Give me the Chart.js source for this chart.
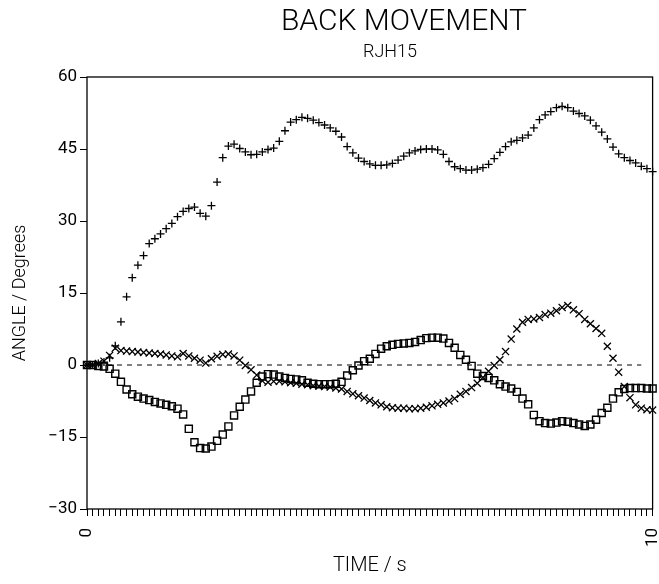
<!DOCTYPE html>
<html>
<head>
<meta charset="utf-8">
<script src="https://cdn.jsdelivr.net/npm/chart.js@4"></script>
<style>
  html, body { margin: 0; padding: 0; background: #fff; }
</style>
</head>
<body>
<canvas id="myChart" width="659" height="584"></canvas>
<script>
const titleText = "BACK MOVEMENT";
const subtitleText = "RJH15";

// time base, s (sampled every 0.1 s)
const times = Array.from({ length: 101 }, (_, i) => i / 10);

// "+" series
const plusVals = [
  0, 0, 0.3, 0.6, 1.5, 4, 9, 14.2, 18.2, 20.8,
  22.8, 25.3, 26.3, 27.3, 28.4, 29.5, 30.9, 32.0, 32.6, 32.9,
  31.6, 31.0, 33.2, 38.1, 43.2, 45.6, 46.0, 45.1, 44.4, 43.8,
  43.9, 44.4, 44.9, 45.2, 46.6, 48.8, 50.6, 51.1, 51.6, 51.4,
  51.0, 50.5, 50.0, 49.4, 48.7, 47.5, 45.5, 44.2, 43.1, 42.4,
  41.9, 41.6, 41.6, 41.7, 42.0, 42.7, 43.5, 44.2, 44.6, 44.9,
  45.0, 45.0, 44.8, 43.9, 42.4, 41.3, 40.9, 40.6, 40.6, 40.8,
  41.1, 41.8, 43.0, 44.3, 45.5, 46.5, 46.8, 47.3, 47.9, 49.4,
  51.1, 52.1, 52.8, 53.6, 53.9, 53.6, 52.9, 52.4, 51.9, 51.0,
  49.8, 48.5, 47.1, 45.4, 44.0, 43.2, 42.6, 42.1, 41.4, 40.9,
  40.3
];

// "x" series
const crossVals = [
  0, 0, 0.3, 0.8, 2.0, 3.5, 3.0, 2.9, 2.8, 2.7,
  2.6, 2.5, 2.4, 2.3, 2.1, 1.9, 1.7, 2.4, 1.9, 1.4,
  1.0, 0.4, 1.3, 1.8, 2.2, 2.3, 1.9, 1.0, -0.1, -1.0,
  -2.1, -3.3, -3.6, -3.4, -3.4, -3.5, -3.7, -3.8, -4.0, -4.1,
  -4.3, -4.4, -4.5, -4.6, -4.8, -5.0, -5.5, -6.0, -6.4, -6.9,
  -7.4, -7.9, -8.3, -8.7, -8.9, -9.0, -9.0, -9.1, -9.1, -9.0,
  -8.8, -8.5, -8.2, -7.9, -7.5, -7.0, -6.1, -5.5, -4.7, -3.8,
  -2.6, -1.3, -0.1, 1.1, 2.8, 5.4, 7.5, 8.9, 9.5, 9.6,
  9.9, 10.5, 10.8, 11.3, 12.0, 12.4, 11.5, 10.7, 9.5, 8.6,
  7.6, 6.6, 3.9, 1.4, -1.5, -4.5, -6.8, -8.3, -9.0, -9.3,
  -9.4
];

// square series
const squareVals = [
  0, 0, -0.2, -0.3, -0.8, -1.8, -3.5, -5.1, -6.1, -6.6,
  -7.0, -7.3, -7.7, -8.0, -8.3, -8.6, -9.1, -10.3, -13.3, -16.1,
  -17.3, -17.4, -17.0, -15.8, -14.5, -12.8, -10.5, -8.7, -7.2, -5.5,
  -3.7, -2.4, -1.9, -2.0, -2.4, -2.7, -2.9, -3.0, -3.2, -3.7,
  -3.9, -4.0, -4.0, -4.0, -3.9, -3.5, -2.2, -1.1, -0.1, 0.8,
  1.3, 2.3, 3.4, 3.9, 4.2, 4.4, 4.5, 4.6, 4.8, 5.2,
  5.6, 5.7, 5.7, 5.5, 4.6, 3.6, 2.1, 1.1, -0.2, -1.8,
  -2.3, -2.7, -3.2, -4.0, -4.5, -4.9, -5.6, -7.0, -8.2, -10.4,
  -11.7, -12.1, -12.2, -12.0, -11.7, -11.8, -12.1, -12.4, -12.7, -12.4,
  -11.4, -10.0, -8.9, -7.0, -5.7, -5.0, -4.8, -4.8, -4.8, -4.9,
  -4.9
];

// dashed zero reference line
const refLineX = [0, 9.8];
const refLineY = 0;

// tick labels
const yTicks = [-30, -15, 0, 15, 30, 45, 60];
const xLabelTicks = [0, 10];

const FONT = "Roboto, 'DejaVu Sans', sans-serif";

function toPoints(vals) {
  return vals.map((v, i) => ({ x: times[i], y: v }));
}

const framePlugin = {
  id: "frame",
  beforeDatasetsDraw(chart) {
    const a = chart.chartArea;
    const c = chart.ctx;
    c.save();
    c.strokeStyle = "#000";
    c.lineWidth = 1.3;
    c.strokeRect(a.left, a.top, a.right - a.left, a.bottom - a.top);
    c.restore();
  },
  afterDraw(chart) {
    const c = chart.ctx;
    c.save();
    c.fillStyle = "#000";
    c.textAlign = "center";
    c.textBaseline = "middle";
    c.font = "300 30px " + FONT;
    c.fillText(titleText, 404, 22);
    c.font = "300 18px " + FONT;
    c.fillText(subtitleText, 390, 52);
    c.restore();
  },
};

const ctx = document.getElementById("myChart").getContext("2d");

const myChart = new Chart(ctx, {
  type: "scatter",
  data: {
    datasets: [
      {
        label: "zero",
        data: refLineX.map((x) => ({ x: x, y: refLineY })),
        showLine: true,
        borderColor: "#000",
        borderWidth: 1,
        borderDash: [5, 5],
        pointRadius: 0,
      },
      {
        label: "plus",
        data: toPoints(plusVals),
        pointStyle: "cross",
        pointRadius: 4,
        borderColor: "#000",
        borderWidth: 1.3,
        clip: false,
      },
      {
        label: "cross",
        data: toPoints(crossVals),
        pointStyle: "crossRot",
        pointRadius: 5,
        borderColor: "#000",
        borderWidth: 1.3,
        clip: false,
      },
      {
        label: "square",
        data: toPoints(squareVals),
        pointStyle: "rect",
        pointRadius: 5,
        backgroundColor: "rgba(255,255,255,0)",
        borderColor: "#000",
        borderWidth: 1.4,
        clip: false,
      },
    ],
  },
  options: {
    responsive: false,
    animation: false,
    devicePixelRatio: 1,
    layout: { padding: { top: 77, right: 6, left: 0, bottom: 0 } },
    plugins: {
      legend: { display: false },
      tooltip: { enabled: false },
    },
    scales: {
      x: {
        type: "linear",
        min: 0,
        max: 10,
        afterBuildTicks: (scale) => {
          scale.ticks = times.map((t) => ({ value: t }));
        },
        afterFit: (scale) => {
          scale.height = 75;
          scale.paddingLeft = 0;
          scale.paddingRight = 0;
        },
        ticks: {
          autoSkip: false,
          minRotation: 90,
          maxRotation: 90,
          padding: 12,
          color: "#000",
          font: { family: FONT, size: 17 },
          callback: function (value) {
            const hit = xLabelTicks.find((v) => Math.abs(v - value) < 1e-6);
            return hit === undefined ? "" : String(hit);
          },
        },
        grid: {
          drawOnChartArea: false,
          drawTicks: true,
          tickLength: 7,
          tickColor: "#000",
          tickWidth: 1,
        },
        border: { display: false },
        title: {
          display: true,
          text: "TIME / s",
          color: "#000",
          font: { family: FONT, size: 20, weight: "300" },
          padding: { top: 0, bottom: 6 },
        },
      },
      y: {
        min: -30,
        max: 60,
        afterBuildTicks: (scale) => {
          scale.ticks = yTicks.map((v) => ({ value: v }));
        },
        afterFit: (scale) => {
          scale.width = 87;
          scale.paddingTop = 0;
          scale.paddingBottom = 0;
        },
        ticks: {
          padding: 3,
          color: "#000",
          font: { family: FONT, size: 17 },
          callback: (value) => (value < 0 ? "\u2212" + Math.abs(value) : String(value)),
        },
        grid: {
          drawOnChartArea: false,
          drawTicks: true,
          tickLength: 7,
          tickColor: "#000",
          tickWidth: 1,
        },
        border: { display: false },
        title: {
          display: true,
          text: "ANGLE / Degrees",
          color: "#000",
          font: { family: FONT, size: 18, weight: "300" },
          padding: { top: 10, bottom: 0 },
        },
      },
    },
  },
  plugins: [framePlugin],
});
</script>
</body>
</html>
